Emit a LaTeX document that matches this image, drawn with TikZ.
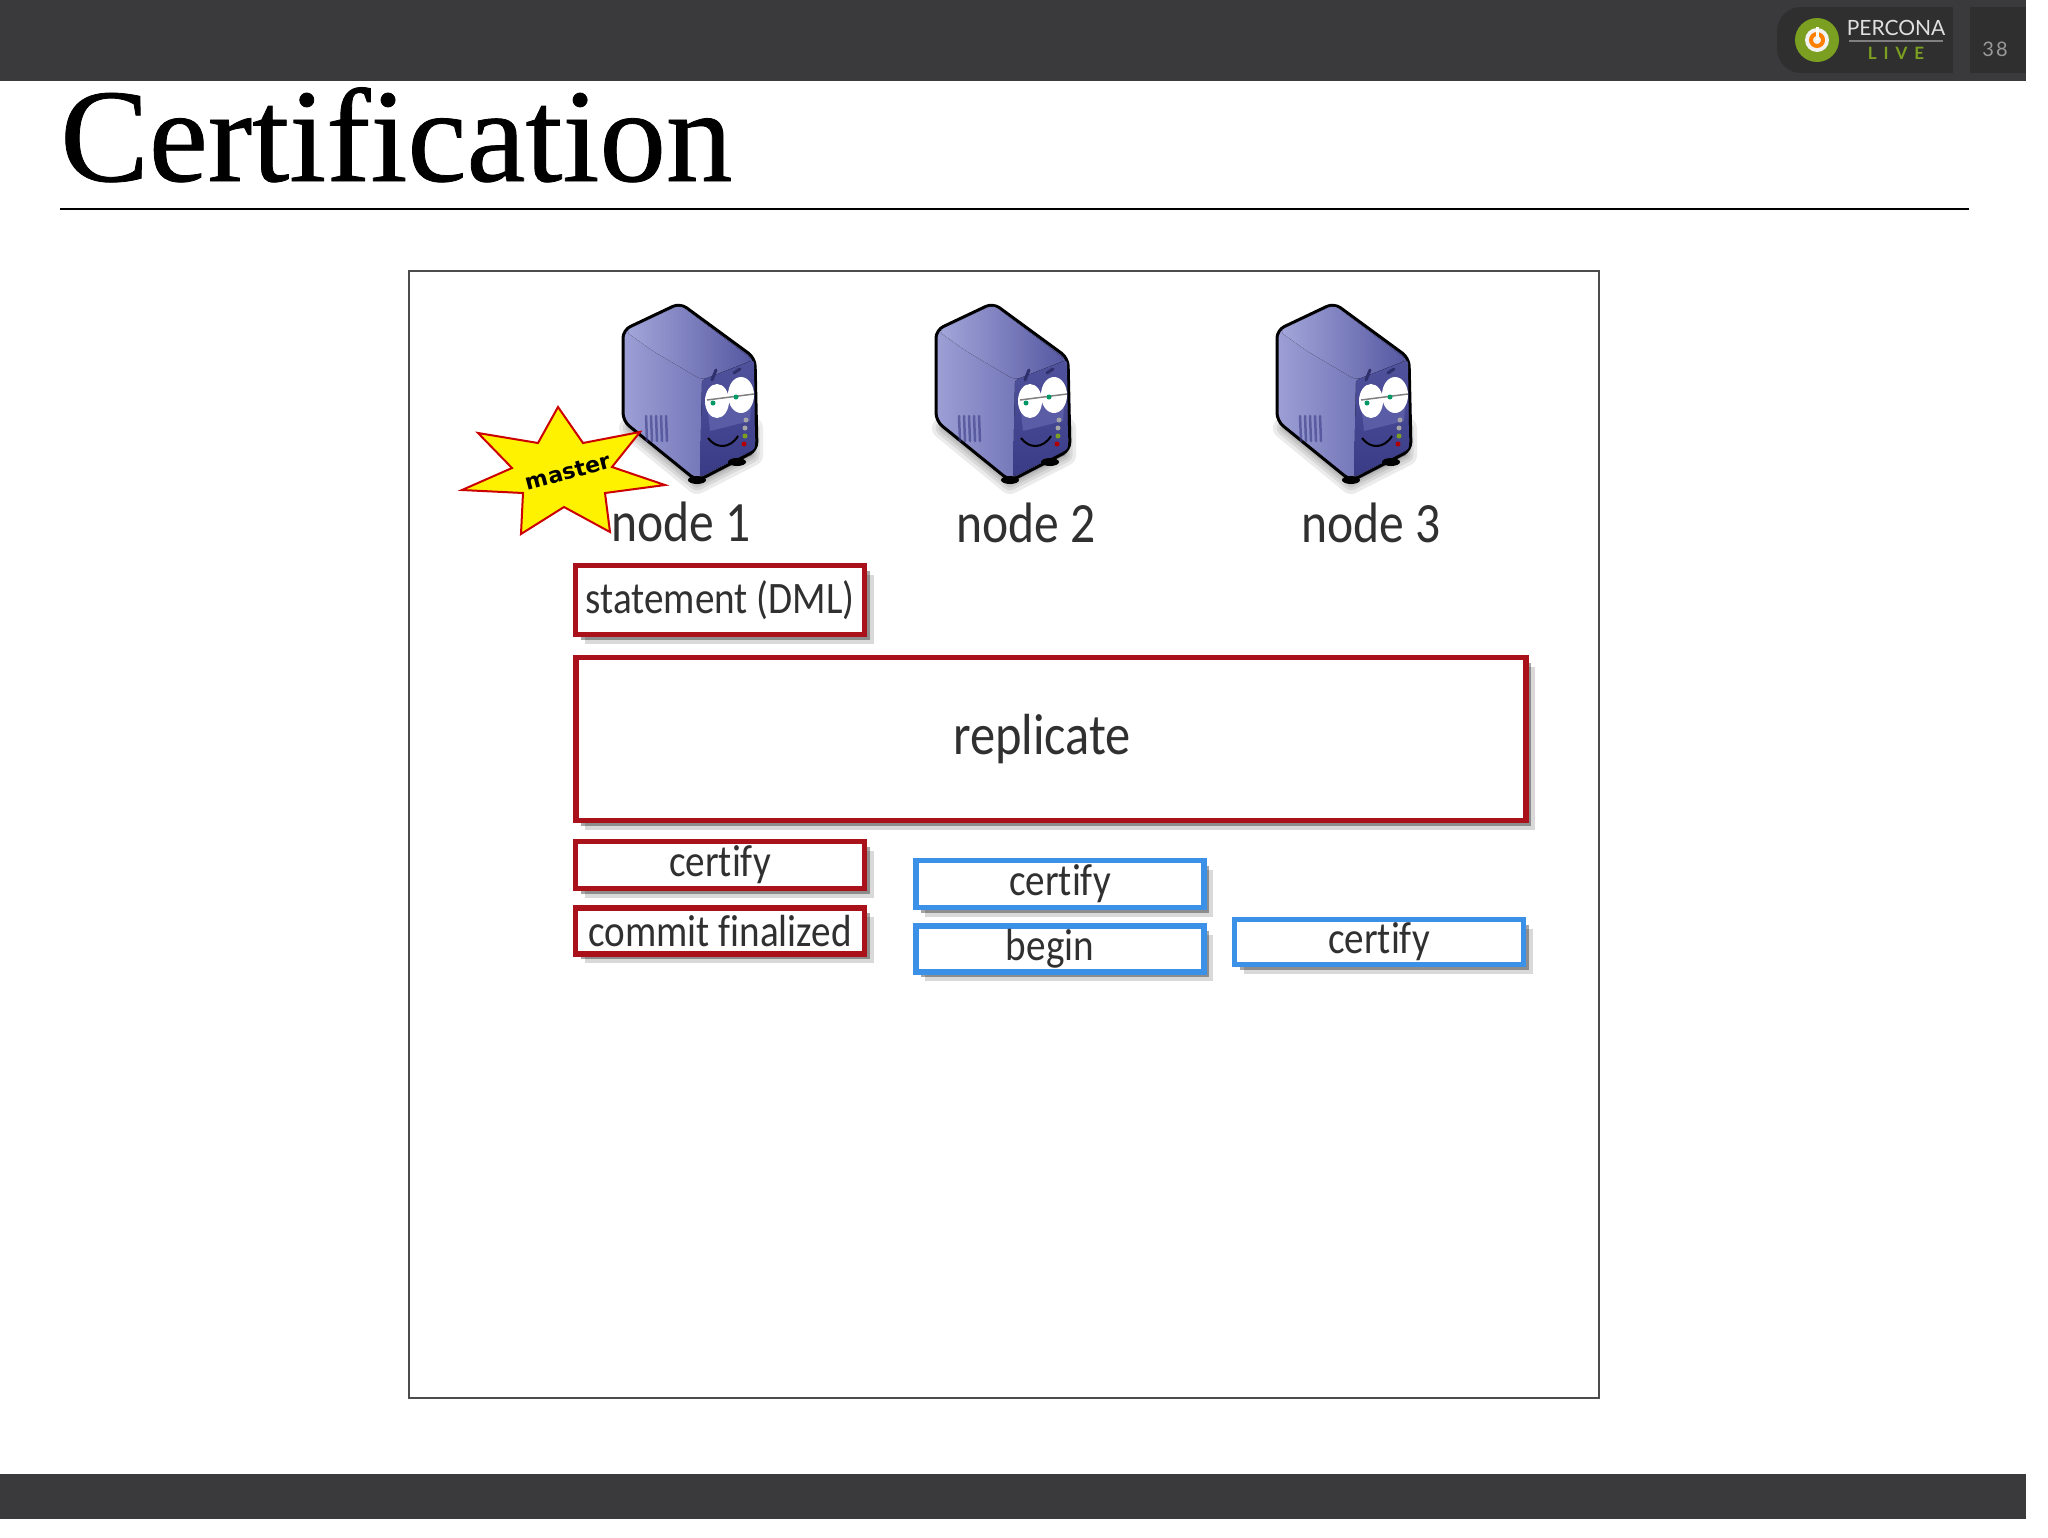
\documentclass[tikz,border=0pt]{standalone}
\usepackage{fontspec}
\usetikzlibrary{shadows}
\setmainfont{Liberation Serif}
\newfontfamily\titlefont[FakeBold=.6]{Liberation Serif}
\newfontfamily\boxfont[FakeStretch=.87, Ligatures={NoCommon}]{Carlito}
\newfontfamily\logofont{Lato}
\newfontfamily\starfont{DejaVu Sans}
\definecolor{barcol}{HTML}{3A393B}
\definecolor{logocol}{HTML}{2F2F30}
\definecolor{redcol}{HTML}{A9121B}
\definecolor{bluecol}{HTML}{3B90E8}
\definecolor{textcol}{HTML}{303030}
\definecolor{srvlight}{HTML}{A4A7DA}
\definecolor{srvmid}{HTML}{5A5CA6}
\definecolor{srvdark}{HTML}{3A3B86}
\definecolor{limecol}{HTML}{7B9F20}
\tikzset{
	box/.style={draw, fill=white, line width=5.5pt, inner sep=0pt, outer sep=0pt, text=textcol,
		font=\boxfont\fontsize{45}{45}\selectfont,
		drop shadow={shadow xshift=9pt, shadow yshift=-9pt, fill=black, opacity=.15},
		drop shadow={shadow xshift=5pt, shadow yshift=-5pt, fill=black, opacity=.35}},
	redbox/.style={box, draw=redcol},
	bluebox/.style={box, draw=bluecol},
	nodelabel/.style={text=textcol, inner sep=0pt, font=\boxfont\fontsize{57}{57}\selectfont},
	pics/server/.style={code={
		\foreach \w in {22,15,9,4}
			\draw[black, fill=black, opacity=.08, line width=\w pt, line join=round, shift={(0,5)}] (-50,120) -- (17,175) -- (72,147) -- (72,120) -- cycle;
		\draw[line width=3pt, line join=round, rounded corners=8pt, left color=srvlight!90!srvmid, right color=srvmid] (0,0) -- (-57,27) -- (-57,118) -- (17,178) -- (77,147) -- (75,55) -- cycle;
		\fill[rounded corners=6pt, left color=srvlight, right color=srvmid!85!srvdark] (0,2) -- (-55,28) -- (-27,48) -- (22,77) -- (73,57) -- cycle;
		\fill[rounded corners=3pt, top color=srvmid!70!srvdark, bottom color=srvdark] (22,77) -- (74,57) -- (75,146) -- (20,174) -- cycle;
		\fill[srvmid] (27,100) -- (72,92) -- (70,118) -- (30,128) -- cycle;
		\foreach \x in {-34,-29,...,-14}
			\draw[srvdark, opacity=.6, line width=2.5pt, line cap=round] (\x,113) -- (\x+1,138);
		\fill[black] (17,177) ellipse (9 and 4);
		\fill[black] (57,159) ellipse (9 and 4);
		\draw[srvdark!80!black, line width=3pt, line cap=round] (32,77) -- (36,67);
		\draw[srvdark!80!black, line width=3pt, line cap=round] (54,70) -- (60,66);
		\fill[white] (37,98) ellipse (12 and 17);
		\fill[white] (61,92) ellipse (13 and 18);
		\draw[gray, line width=1.5pt] (27,97) -- (74,91);
		\fill[teal!80!green] (33,100) circle (2.5);
		\fill[teal!80!green] (56,94) circle (2.5);
		\draw[black, line width=2pt] (28,135) .. controls (36,146) and (50,146) .. (58,133);
		\fill[red!70!black] (64,141) circle (2.5);
		\fill[limecol] (65,133) circle (2.5);
		\fill[gray!70] (65,125) circle (2.5);
		\fill[gray!70] (66,117) circle (2.5);
	}},
}
\begin{document}
\begin{tikzpicture}[x=1pt, y=-1pt]
	\useasboundingbox (0,0) rectangle (2048,1537);
	\fill[white] (0,0) rectangle (2048,1537);
	% bars
	\fill[barcol] (0,0) rectangle (2026,81);
	\fill[barcol] (0,1474) rectangle (2026,1519);
	\fill[logocol, rounded corners=24pt] (1777,7) rectangle (1990,73);
	\fill[barcol] (1953,0) rectangle (1970,81);
	\fill[logocol] (1970,7) rectangle (2026,73);
	\fill[limecol] (1817,40) circle (22);
	\fill[white!90!gray] (1817,40) circle (12);
	\draw[orange, line width=4pt] (1817,40) circle (6);
	\draw[white, line width=3pt] (1817,27) -- (1817,40);
	\node[text=white!75!gray, inner sep=0pt, font=\logofont\fontsize{21}{21}\selectfont] (brand) at (1896,28) {PERCONA};
	\draw[gray, line width=1.5pt] (1849,41) -- (1943,41);
	\node[text=limecol, inner sep=0pt, font=\logofont\bfseries\fontsize{17}{17}\selectfont] (live) at (1896,53) {L\hspace{7pt}I\hspace{7pt}V\hspace{7pt}E};
	\node[text=gray!80, inner sep=0pt, font=\logofont\fontsize{20}{20}\selectfont] (page) at (1995,49) {3\hspace{2pt}8};
	% title
	\node[anchor=base west, inner sep=0pt, font=\titlefont\fontsize{133}{133}\selectfont] (title) at (60,181) {Certification};
	\draw[line width=2pt] (60,209) -- (1969,209);
	% frame
	\draw[black!70, line width=1.5pt] (409,271) rectangle (1599,1398);
	% servers
	\pic at (680,303) {server};
	\pic at (993,303) {server};
	\pic at (1334,303) {server};
	\node[nodelabel] (node1) at (681,522) {node 1};
	\node[nodelabel] (node2) at (1026,523) {node 2};
	\node[nodelabel] (node3) at (1371,523) {node 3};
	% star
	\draw[fill=yellow, draw=red!80!black, line width=2pt] (558,407) -- (583,443) -- (640,432) -- (612,467) -- (665,485) -- (605,493) -- (610,532) -- (564,507) -- (521,534) -- (523,493) -- (462,490) -- (512,468) -- (478,433) -- (538,443) -- cycle;
	\node[rotate=15, inner sep=0pt, font=\starfont\bfseries\fontsize{22}{22}\selectfont] (master) at (568,472) {master};
	% boxes
	\node[redbox, minimum width=289pt, minimum height=69pt] (statement) at (720,600) {statement (DML)};
	\node[redbox, minimum width=950pt, minimum height=163pt, font=\boxfont\fontsize{58}{58}\selectfont] (replicate) at (1051,739) {replicate\hspace*{18pt}};
	\node[redbox, minimum width=289pt, minimum height=47pt] (certifyA) at (720,865) {certify};
	\node[redbox, minimum width=289pt, minimum height=46pt] (commit) at (720,931) {commit finalized};
	\node[bluebox, minimum width=288pt, minimum height=47pt] (certifyB) at (1060,884) {certify};
	\node[bluebox, minimum width=288pt, minimum height=46pt] (begin) at (1060,949) {begin\hspace*{20pt}};
	\node[bluebox, minimum width=289pt, minimum height=45pt] (certifyC) at (1379,942) {\raisebox{-3pt}{certify}};
\end{tikzpicture}
\end{document}
